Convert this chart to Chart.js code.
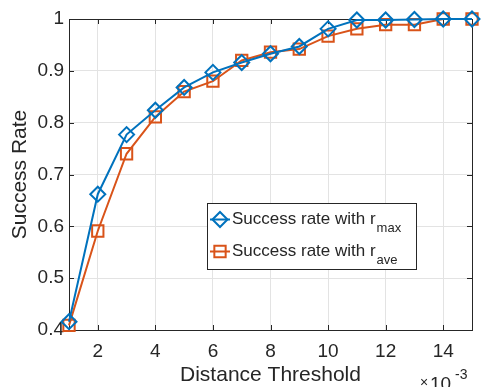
<!DOCTYPE html>
<html>
<head>
<meta charset="utf-8">
<script src="https://cdn.jsdelivr.net/npm/chart.js@4/dist/chart.umd.min.js"></script>
<style>
  html, body { margin: 0; padding: 0; background: #ffffff; }
  #wrap { width: 486px; height: 387px; position: relative; }
</style>
</head>
<body>
<div id="wrap"><canvas id="c" width="486" height="387"></canvas></div>
<script>
// ---- data ----
const distanceThreshold = [1, 2, 3, 4, 5, 6, 7, 8, 9, 10, 11, 12, 13, 14, 15];
const successRMax = [0.416, 0.662, 0.777, 0.824, 0.868, 0.897, 0.916, 0.933, 0.947, 0.981, 0.998, 0.998, 0.999, 1.0, 1.0];
const successRAve = [0.409, 0.591, 0.740, 0.811, 0.860, 0.880, 0.920, 0.936, 0.942, 0.967, 0.981, 0.989, 0.989, 1.0, 1.0];
const xTickValues = [2, 4, 6, 8, 10, 12, 14];
const yTickValues = [0.4, 0.5, 0.6, 0.7, 0.8, 0.9, 1.0];
const seriesNames = ['Success rate with r', 'Success rate with r'];
const seriesSubscripts = ['max', 'ave'];
const xTitle = 'Distance Threshold';
const yTitle = 'Success Rate';
const xExponent = '-3';

const BLUE = '#0072BD';
const ORANGE = '#D95319';
const AXIS = '#262626';
const FONT = '"Liberation Sans", Arial, Helvetica, sans-serif';

const toPts = (ys) => distanceThreshold.map((x, i) => ({ x: x, y: ys[i] }));

const matlabAxes = {
  id: 'matlabAxes',
  beforeDatasetsDraw(chart) {
    const { ctx, chartArea: a, scales: { x, y } } = chart;
    ctx.save();
    ctx.strokeStyle = AXIS;
    ctx.lineWidth = 1;
    ctx.beginPath();
    const tl = 5;
    xTickValues.forEach(v => {
      const px = Math.round(x.getPixelForValue(v)) + 0.5;
      ctx.moveTo(px, a.bottom); ctx.lineTo(px, a.bottom - tl);
      ctx.moveTo(px, a.top); ctx.lineTo(px, a.top + tl);
    });
    yTickValues.forEach(v => {
      const py = Math.round(y.getPixelForValue(v)) + 0.5;
      ctx.moveTo(a.left, py); ctx.lineTo(a.left + tl, py);
      ctx.moveTo(a.right, py); ctx.lineTo(a.right - tl, py);
    });
    ctx.stroke();
    ctx.strokeRect(Math.round(a.left) + 0.5, Math.round(a.top) + 0.5,
                   Math.round(a.right - a.left), Math.round(a.bottom - a.top));
    ctx.restore();
  },
  afterDraw(chart) {
    const { ctx, chartArea: a } = chart;
    ctx.save();
    // exponent label
    ctx.fillStyle = AXIS;
    ctx.textBaseline = 'alphabetic';
    ctx.textAlign = 'left';
    ctx.font = '14px ' + FONT;
    ctx.fillText('\u00d7', a.right - 52, 387);
    ctx.font = '19px ' + FONT;
    ctx.fillText('10', a.right - 42, 390);
    ctx.font = '14px ' + FONT;
    ctx.fillText(xExponent, a.right - 17, 379);

    // legend
    const lx = 207, ly = 203, lw = 209, lh = 66;
    ctx.fillStyle = '#ffffff';
    ctx.fillRect(lx, ly, lw, lh);
    ctx.strokeStyle = AXIS;
    ctx.lineWidth = 1;
    ctx.strokeRect(lx + 0.5, ly + 0.5, lw, lh);
    const rows = [
      { color: BLUE, style: 'rectRot', r: 7.5, cy: 219.5 },
      { color: ORANGE, style: 'rect', r: 8, cy: 251.5 }
    ];
    rows.forEach((row, i) => {
      ctx.strokeStyle = row.color;
      ctx.lineWidth = 2;
      ctx.beginPath();
      ctx.moveTo(210, row.cy); ctx.lineTo(230, row.cy);
      ctx.stroke();
      ctx.fillStyle = 'rgba(0,0,0,0)';
      ctx.strokeStyle = row.color;
      ctx.lineWidth = 2;
      Chart.helpers.drawPoint(ctx, { pointStyle: row.style, radius: row.r, rotation: 0, borderWidth: 2 }, 220, row.cy);
      ctx.fillStyle = AXIS;
      ctx.font = '17px ' + FONT;
      ctx.textBaseline = 'alphabetic';
      const base = row.cy + 4;
      ctx.fillText(seriesNames[i], 232, base);
      const w = ctx.measureText(seriesNames[i]).width;
      ctx.font = '13px ' + FONT;
      ctx.fillText(seriesSubscripts[i], 232 + w + 1, base + 8);
    });
    ctx.restore();
  }
};

new Chart(document.getElementById('c'), {
  type: 'line',
  data: {
    datasets: [
      {
        label: seriesNames[0] + seriesSubscripts[0],
        data: toPts(successRMax),
        borderColor: BLUE,
        backgroundColor: 'rgba(0,0,0,0)',
        borderWidth: 2,
        pointStyle: 'rectRot',
        pointRadius: 7.5,
        pointBorderWidth: 2,
        pointBorderColor: BLUE,
        pointBackgroundColor: 'rgba(0,0,0,0)',
        tension: 0,
        clip: false
      },
      {
        label: seriesNames[1] + seriesSubscripts[1],
        data: toPts(successRAve),
        borderColor: ORANGE,
        backgroundColor: 'rgba(0,0,0,0)',
        borderWidth: 2,
        pointStyle: 'rect',
        pointRadius: 8,
        pointBorderWidth: 2,
        pointBorderColor: ORANGE,
        pointBackgroundColor: 'rgba(0,0,0,0)',
        tension: 0,
        clip: false
      }
    ]
  },
  options: {
    responsive: false,
    animation: false,
    devicePixelRatio: 1,
    layout: { padding: { left: 0, right: 14, top: 19, bottom: 0 } },
    plugins: { legend: { display: false }, tooltip: { enabled: false } },
    scales: {
      x: {
        type: 'linear',
        min: 1, max: 15,
        afterBuildTicks: s => { s.ticks = xTickValues.map(v => ({ value: v })); },
        afterFit: s => { s.height = 57; },
        grid: { color: '#e3e3e3', drawTicks: false, lineWidth: 1 },
        border: { display: false },
        ticks: { color: AXIS, padding: 10, maxRotation: 0, font: { family: FONT, size: 19 },
                 callback: v => String(v) },
        title: { display: true, text: xTitle, color: AXIS,
                 font: { family: FONT, size: 21, lineHeight: 1 }, padding: { top: 0, bottom: 1 } }
      },
      y: {
        type: 'linear',
        min: 0.4, max: 1,
        afterBuildTicks: s => { s.ticks = yTickValues.map(v => ({ value: v })); },
        afterFit: s => { s.width = 69; },
        grid: { color: '#e3e3e3', drawTicks: false, lineWidth: 1 },
        border: { display: false },
        ticks: { color: AXIS, padding: 5, font: { family: FONT, size: 19 },
                 callback: v => String(Math.round(v * 10) / 10) },
        title: { display: true, text: yTitle, color: AXIS,
                 font: { family: FONT, size: 21, lineHeight: 1 }, padding: { top: 10, bottom: 0 } }
      }
    }
  },
  plugins: [matlabAxes]
});
</script>
</body>
</html>
